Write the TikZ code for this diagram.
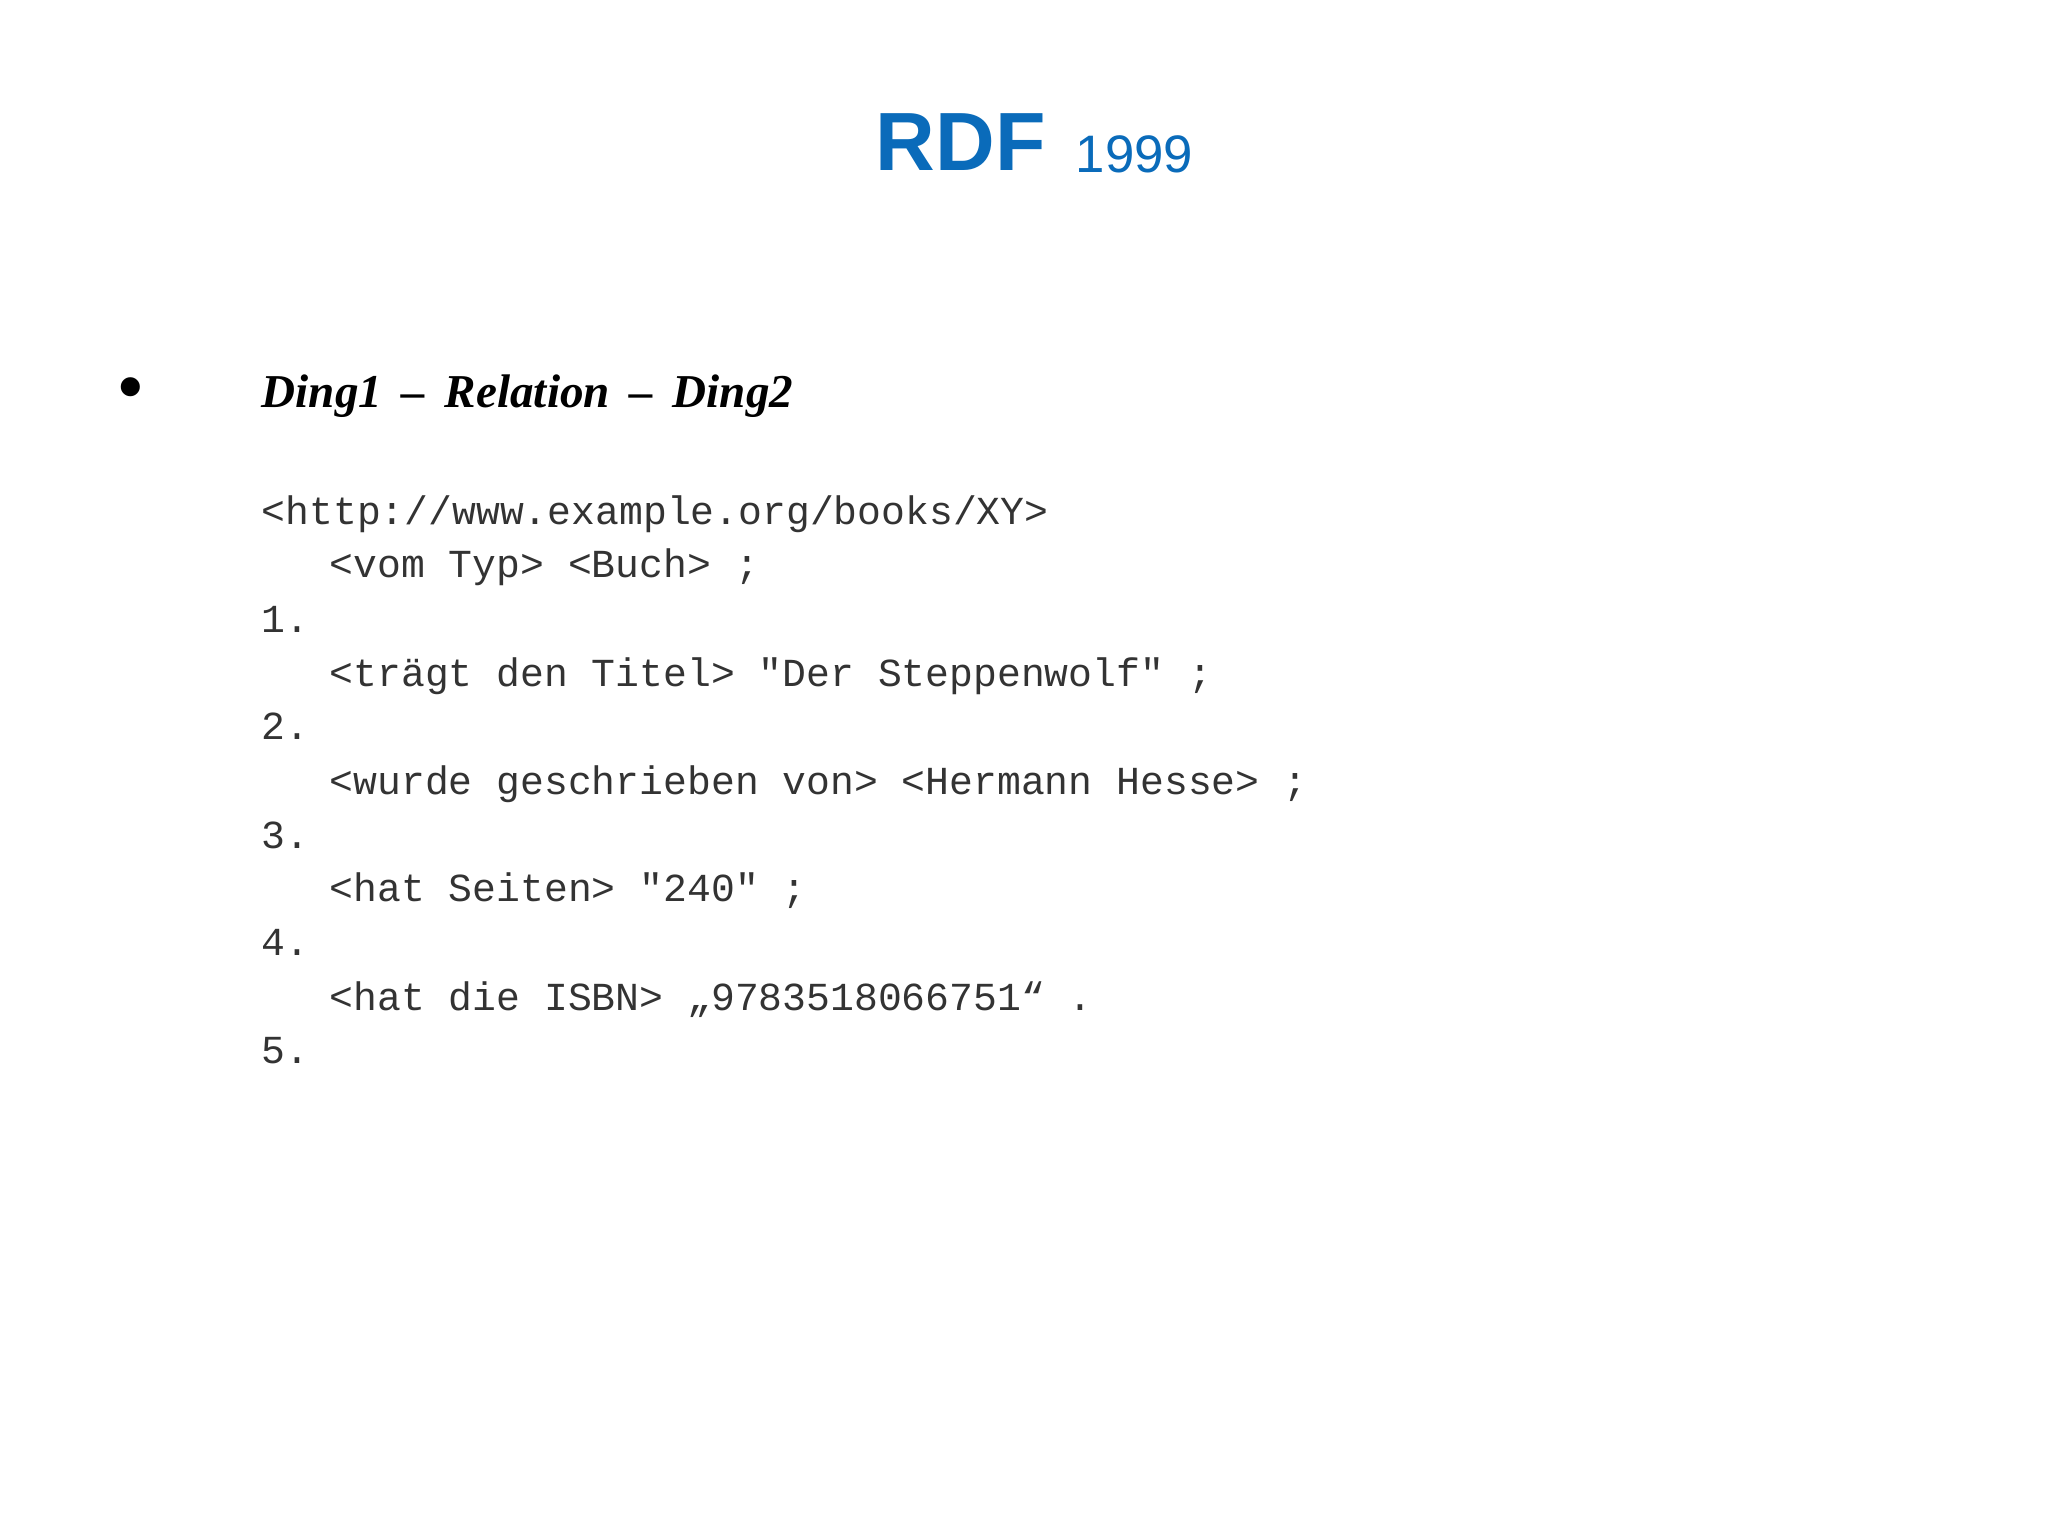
\documentclass[tikz,border=0pt]{standalone}
\usepackage{fontspec}
\setmainfont{Liberation Serif}
\setsansfont{Liberation Sans}
\setmonofont{Liberation Mono}
\definecolor{rdfblue}{HTML}{0A6BBA}
\begin{document}
\begin{tikzpicture}[x=0.01cm,y=-0.01cm,
  code/.style={anchor=base west,inner sep=0,font=\ttfamily\fontsize{11.3}{13}\selectfont,text=black!80}]
\useasboundingbox (0,0) rectangle (2048,1536);
\node[anchor=base west,inner sep=0,text=rdfblue,font=\sffamily\bfseries\fontsize{23.5}{26}\selectfont] (t) at (875,170) {RDF};
\node[anchor=base west,inner sep=0,text=rdfblue,font=\sffamily\fontsize{15}{18}\selectfont] (y) at (1075,172) {1999};
\node[inner sep=0,font=\bfseries\fontsize{20}{22}\selectfont] (b) at (131,394) {•};
\node[anchor=base west,inner sep=0,font=\bfseries\itshape\fontsize{13.4}{16}\selectfont] (d) at (261,407) {Ding1 \,–\, Relation \,–\, Ding2};
\node[code] (l1) at (261,524) {<http://www.example.org/books/XY>};
\node[code] (l2) at (329,577) {<vom Typ> <Buch> ;};
\node[code] (l3) at (261,632) {1.};
\node[code] (l4) at (329,686) {<trägt den Titel> "Der Steppenwolf" ;};
\node[code] (l5) at (261,739) {2.};
\node[code] (l6) at (329,794) {<wurde geschrieben von> <Hermann Hesse> ;};
\node[code] (l7) at (261,848) {3.};
\node[code] (l8) at (329,901) {<hat Seiten> "240" ;};
\node[code] (l9) at (261,955) {4.};
\node[code] (l10) at (329,1010) {<hat die ISBN> „9783518066751“ .};
\node[code] (l11) at (261,1063) {5.};
\end{tikzpicture}
\end{document}
